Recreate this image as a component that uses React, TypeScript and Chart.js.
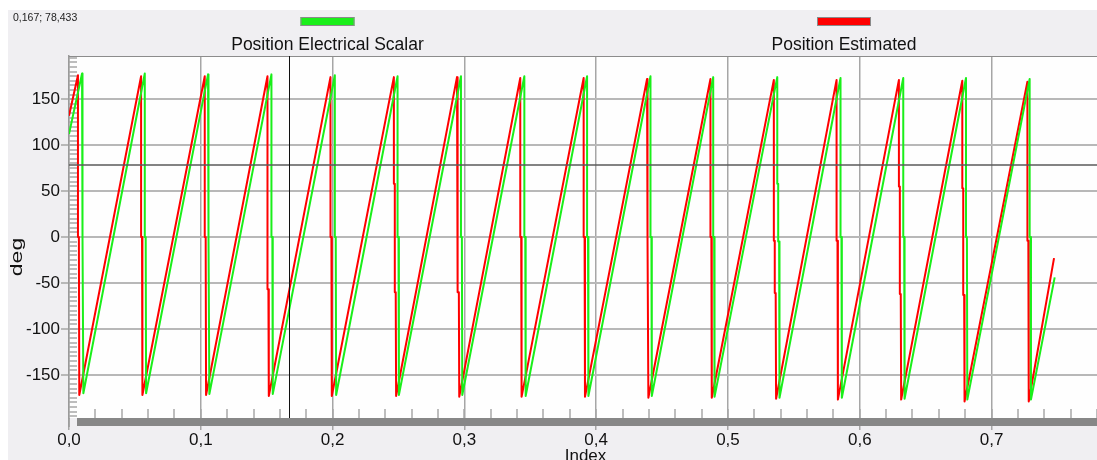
import React, { useEffect, useRef } from 'react';
import { Chart, registerables } from 'chart.js';

Chart.register(...registerables);

// ---- axis ticks ----
const xTickValues = [0, 0.1, 0.2, 0.3, 0.4, 0.5, 0.6, 0.7];
const xTickLabels = ['0,0', '0,1', '0,2', '0,3', '0,4', '0,5', '0,6', '0,7'];
const yTickValues = [-150, -100, -50, 0, 50, 100, 150];
const yTickLabels = ['-150', '-100', '-50', '0', '50', '100', '150'];

// ---- cursor readout ----
const cursorX = 0.167;
const cursorY = 78.433;
const cursorLabel = '0,167; 78,433';

// ---- series: Position Electrical Scalar (green) ----
const greenName = 'Position Electrical Scalar';
const greenStart = 112;
const greenDrops = [0.0099, 0.0575, 0.1055, 0.1536, 0.2017, 0.2493, 0.2974, 0.3455, 0.3931, 0.4412, 0.4888, 0.5374, 0.5854, 0.6330, 0.6806, 0.7289];
const greenPeaks = [178, 178, 177, 177, 176, 175, 175, 175, 175, 175, 174, 174, 173, 173, 173, 172];
const greenTroughs = [-170, -170, -171, -171, -172, -172, -172, -173, -173, -173, -174, -175, -175, -176, -177, -177];
const greenJogs = [[0], [0], [0], [0], [0], [0], [0], [0], [0], [0], [0], [58, -5], [0], [0], [0], [0]];
const greenEnd = { x: 0.7479, y: -44 };

// ---- series: Position Estimated (red) ----
const redName = 'Position Estimated';
const redStart = 132;
const redDrops = [0.0068, 0.0547, 0.1030, 0.1506, 0.1984, 0.2465, 0.2944, 0.3424, 0.3905, 0.4386, 0.4867, 0.5348, 0.5824, 0.6297, 0.6778, 0.7272];
const redPeaks = [176, 175, 175, 175, 174, 174, 174, 173, 173, 172, 172, 171, 171, 171, 170, 169];
const redTroughs = [-172, -172, -172, -173, -173, -173, -174, -174, -174, -175, -175, -176, -177, -177, -179, -179];
const redJogs = [[0], [0], [0], [-57], [0], [58, -60], [58, -60], [0], [0], [0], [0], [-4, -61], [-4], [55, -62], [53, -63], [-4]];
const redEnd = { x: 0.7474, y: -23 };

const GREEN = '#1aef1a';
const RED = '#ff0000';
const BG = '#f0eff2';
const FONT = '"Liberation Sans", Arial, sans-serif';

function buildSeries(
  startY: number,
  drops: number[],
  peaks: number[],
  troughs: number[],
  jogs: number[][],
  end: { x: number; y: number }
) {
  const pts: { x: number; y: number }[] = [{ x: 0, y: startY }];
  drops.forEach((d, i) => {
    pts.push({ x: d, y: peaks[i] });
    let x = d;
    jogs[i].forEach((level) => {
      pts.push({ x, y: level });
      x += 0.0007;
      pts.push({ x, y: level });
    });
    pts.push({ x: x + 0.0003, y: troughs[i] });
  });
  pts.push(end);
  return pts;
}

const decoPlugin = {
  id: 'deco',
  beforeDraw(chart: any) {
    const { ctx, chartArea: a, width, height } = chart;
    ctx.save();
    ctx.fillStyle = BG;
    ctx.fillRect(0, 0, width, height);
    ctx.fillStyle = '#fefefe';
    ctx.fillRect(a.left, a.top, a.right - a.left, a.bottom - a.top);
    ctx.restore();
  },
  beforeDatasetsDraw(chart: any) {
    const { ctx, chartArea: a, scales } = chart;
    const xs = scales.x;
    const ys = scales.y;
    ctx.save();
    // top border of plot
    ctx.strokeStyle = '#8c8c8c';
    ctx.lineWidth = 1;
    ctx.beginPath();
    ctx.moveTo(a.left, a.top + 0.5);
    ctx.lineTo(a.right, a.top + 0.5);
    ctx.stroke();
    // minor y ticks (inside, every 5)
    ctx.strokeStyle = '#a8a8a8';
    ctx.lineWidth = 1.5;
    ctx.beginPath();
    for (let v = -195; v <= 195; v += 5) {
      const py = Math.round(ys.getPixelForValue(v));
      ctx.moveTo(a.left, py);
      ctx.lineTo(a.left + 8, py);
    }
    ctx.stroke();
    // minor x ticks (inside, every 0.02)
    ctx.beginPath();
    for (let k = 1; k <= 39; k++) {
      const px = Math.round(xs.getPixelForValue(k * 0.02));
      ctx.moveTo(px, a.bottom);
      ctx.lineTo(px, a.bottom - 9);
    }
    ctx.stroke();
    ctx.restore();
  },
  afterDatasetsDraw(chart: any) {
    const { ctx, chartArea: a, scales } = chart;
    const px = Math.round(scales.x.getPixelForValue(cursorX)) + 0.5;
    const py = Math.round(scales.y.getPixelForValue(cursorY));
    ctx.save();
    ctx.strokeStyle = '#5a5a5a';
    ctx.lineWidth = 1.5;
    ctx.beginPath();
    ctx.moveTo(a.left, py);
    ctx.lineTo(a.right, py);
    ctx.stroke();
    ctx.strokeStyle = '#111111';
    ctx.lineWidth = 1;
    ctx.beginPath();
    ctx.moveTo(px, a.top);
    ctx.lineTo(px, a.bottom);
    ctx.stroke();
    ctx.restore();
  },
  afterDraw(chart: any) {
    const { ctx, chartArea: a } = chart;
    ctx.save();
    // scroll bar under the x axis
    ctx.fillStyle = '#878787';
    ctx.fillRect(a.left + 8, a.bottom, a.right - a.left - 8, 8);
    // extend y axis line
    ctx.strokeStyle = '#9a9a9a';
    ctx.lineWidth = 1.5;
    ctx.beginPath();
    ctx.moveTo(a.left, a.bottom);
    ctx.lineTo(a.left, a.bottom + 9);
    ctx.stroke();

    // cursor readout
    ctx.fillStyle = '#222';
    ctx.font = `10.5px ${FONT}`;
    ctx.textAlign = 'left';
    ctx.textBaseline = 'middle';
    ctx.fillText(cursorLabel, 5, 8.5);

    // legend
    const items = [
      { name: greenName, color: GREEN, cx: 319.5 },
      { name: redName, color: RED, cx: 836 },
    ];
    items.forEach((it) => {
      ctx.fillStyle = it.color;
      ctx.fillRect(it.cx - 27, 7, 54, 9);
      ctx.strokeStyle = '#8a8a8a';
      ctx.lineWidth = 1;
      ctx.strokeRect(it.cx - 27 + 0.5, 7.5, 53, 8);
      ctx.fillStyle = '#111';
      ctx.font = `17.5px ${FONT}`;
      ctx.textAlign = 'center';
      ctx.textBaseline = 'alphabetic';
      ctx.fillText(it.name, it.cx, 40);
    });

    // axis titles
    ctx.fillStyle = '#111';
    ctx.font = `17px ${FONT}`;
    ctx.textAlign = 'center';
    ctx.textBaseline = 'alphabetic';
    ctx.fillText('Index', 577.5, 450.5);

    ctx.save();
    ctx.translate(9, 247);
    ctx.rotate(-Math.PI / 2);
    ctx.scale(1.35, 1);
    ctx.textBaseline = 'middle';
    ctx.fillText('deg', 0, 0);
    ctx.restore();

    ctx.restore();
  },
};

export default function App() {
  const canvasRef = useRef<HTMLCanvasElement | null>(null);

  useEffect(() => {
    if (!canvasRef.current) return;
    const chart = new Chart(canvasRef.current, {
      type: 'line',
      data: {
        datasets: [
          {
            label: greenName,
            data: buildSeries(greenStart, greenDrops, greenPeaks, greenTroughs, greenJogs, greenEnd),
            borderColor: GREEN,
            borderWidth: 2,
            borderJoinStyle: 'round',
            pointRadius: 0,
            tension: 0,
          },
          {
            label: redName,
            data: buildSeries(redStart, redDrops, redPeaks, redTroughs, redJogs, redEnd),
            borderColor: RED,
            borderWidth: 2,
            borderJoinStyle: 'round',
            pointRadius: 0,
            tension: 0,
          },
        ],
      },
      options: {
        responsive: false,
        animation: false,
        devicePixelRatio: 1,
        layout: { padding: { top: 46, left: 0, right: 0, bottom: 0 } },
        plugins: {
          legend: { display: false },
          title: { display: false },
          tooltip: { enabled: false },
        },
        events: [],
        scales: {
          x: {
            type: 'linear',
            min: 0,
            max: 0.78,
            afterBuildTicks: (s: any) => {
              s.ticks = xTickValues.map((v) => ({ value: v }));
            },
            afterFit: (s: any) => {
              s.height = 42;
            },
            grid: { color: '#a6a6a6', lineWidth: 1.5, tickLength: 12, drawTicks: true },
            border: { display: false },
            ticks: {
              autoSkip: false,
              maxRotation: 0,
              padding: 0,
              color: '#111',
              font: { family: FONT, size: 17 },
              callback: (v: any) => xTickLabels[xTickValues.indexOf(Number(v))] ?? '',
            },
          },
          y: {
            type: 'linear',
            min: -197,
            max: 197,
            afterBuildTicks: (s: any) => {
              s.ticks = yTickValues.map((v) => ({ value: v }));
            },
            afterFit: (s: any) => {
              s.width = 61;
            },
            grid: { color: '#b8b8b8', lineWidth: 2, tickLength: 8, drawTicks: true },
            border: { color: '#9a9a9a', width: 1.5 },
            ticks: {
              padding: 1,
              color: '#111',
              font: { family: FONT, size: 17 },
              callback: (v: any) => yTickLabels[yTickValues.indexOf(Number(v))] ?? '',
            },
          },
        },
      },
      plugins: [decoPlugin],
    } as any);
    return () => chart.destroy();
  }, []);

  return (
    <div style={{ position: 'absolute', left: 8, top: 10, width: 1089, height: 450 }}>
      <canvas ref={canvasRef} width={1089} height={450} style={{ display: 'block', width: 1089, height: 450 }} />
    </div>
  );
}
